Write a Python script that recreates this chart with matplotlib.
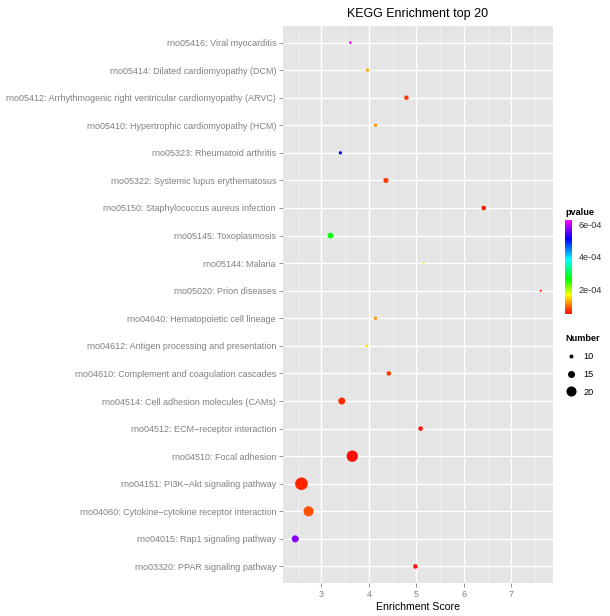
import matplotlib
matplotlib.use("Agg")
import matplotlib.pyplot as plt
import numpy as np
from matplotlib.colors import LinearSegmentedColormap, Normalize
from matplotlib.lines import Line2D
from matplotlib.ticker import MultipleLocator

plt.rcParams['font.family'] = ['Liberation Sans', 'DejaVu Sans']

# ---- data (top row first) ----
pathways = [
    "rno05416: Viral myocarditis",
    "rno05414: Dilated cardiomyopathy (DCM)",
    "rno05412: Arrhythmogenic right ventricular cardiomyopathy (ARVC)",
    "rno05410: Hypertrophic cardiomyopathy (HCM)",
    "rno05323: Rheumatoid arthritis",
    "rno05322: Systemic lupus erythematosus",
    "rno05150: Staphylococcus aureus infection",
    "rno05145: Toxoplasmosis",
    "rno05144: Malaria",
    "rno05020: Prion diseases",
    "rno04640: Hematopoietic cell lineage",
    "rno04612: Antigen processing and presentation",
    "rno04610: Complement and coagulation cascades",
    "rno04514: Cell adhesion molecules (CAMs)",
    "rno04512: ECM\u2212receptor interaction",
    "rno04510: Focal adhesion",
    "rno04151: PI3K\u2212Akt signaling pathway",
    "rno04060: Cytokine\u2212cytokine receptor interaction",
    "rno04015: Rap1 signaling pathway",
    "rno03320: PPAR signaling pathway",
]
enrichment = [3.61, 3.97, 4.79, 4.14, 3.40, 4.36, 6.42, 3.19, 5.15, 7.62,
              4.14, 3.96, 4.42, 3.43, 5.09, 3.65, 2.58, 2.73, 2.45, 4.98]
pvalue = [6.25e-4, 1.25e-4, 0.75e-4, 1.15e-4, 5.1e-4, 0.70e-4, 0.50e-4, 2.6e-4, 1.6e-4, 0.50e-4,
          1.15e-4, 1.55e-4, 0.70e-4, 0.65e-4, 0.50e-4, 0.47e-4, 0.60e-4, 0.85e-4, 5.7e-4, 0.47e-4]
number = [8, 9, 11, 9, 9, 12, 11, 13, 7, 7,
          9, 8, 11, 15, 11, 22, 24, 20, 15, 11]
size_breaks = [10, 15, 20]
p_ticks = [2e-4, 4e-4, 6e-4]
p_tick_labels = ["2e-04", "4e-04", "6e-04"]

title = "KEGG Enrichment top 20"
xlabel = "Enrichment Score"

# ---- styling helpers ----
W, H = 610, 616
DPI = 100

def size_pts2(n):
    d_px = np.maximum(0.62 * np.asarray(n, dtype=float) - 2.3, 1.5)
    return (d_px * 72 / DPI) ** 2

cmap = LinearSegmentedColormap.from_list("rb", [
    (0.00, "#FF1000"), (0.05, "#FF4000"), (0.10, "#FF8000"),
    (0.20, "#FFFF00"), (0.37, "#00FF00"), (0.58, "#00FFFF"),
    (0.80, "#0000FF"), (0.90, "#8000FF"), (1.00, "#FF00FF")])
norm = Normalize(vmin=min(pvalue), vmax=max(pvalue))

fig = plt.figure(figsize=(W / DPI, H / DPI), dpi=DPI)
ax = fig.add_axes([283 / W, 1 - 583 / H, 270 / W, 557 / H])
ax.set_facecolor("#E5E5E5")
for s in ax.spines.values():
    s.set_visible(False)

n = len(pathways)
ypos = np.arange(n)[::-1]
sc = ax.scatter(enrichment, ypos, s=size_pts2(number), c=pvalue, cmap=cmap, norm=norm,
                edgecolors="none", zorder=3)

xmin, xmax = min(enrichment), max(enrichment)
pad = 0.05 * (xmax - xmin)
ax.set_xlim(xmin - pad, xmax + pad)
ax.set_ylim(-0.6, n - 1 + 0.6)
ax.xaxis.set_major_locator(MultipleLocator(1))
ax.xaxis.set_minor_locator(MultipleLocator(0.5))
ax.set_yticks(ypos)
ax.set_yticklabels(pathways)
ax.grid(which="major", color="white", linewidth=1.0, zorder=0)
ax.grid(which="minor", axis="x", color="#F2F2F2", linewidth=0.5, zorder=0)
ax.set_axisbelow(True)
ax.tick_params(axis="both", which="major", colors="#7F7F7F", labelcolor="#808080",
               length=3, width=0.6, labelsize=6.5, pad=2)
ax.tick_params(axis="both", which="minor", length=0)
ax.set_xlabel(xlabel, fontsize=7.6, color="black", labelpad=2)

fig.text(418 / W, 1 - 14 / H, title, ha="center", va="center", fontsize=9)

# colorbar
cax = fig.add_axes([565 / W, 1 - 314 / H, 7 / W, 94 / H])
cb = fig.colorbar(sc, cax=cax, ticks=p_ticks)
cb.ax.set_yticklabels(p_tick_labels)
cb.outline.set_visible(False)
cb.ax.tick_params(length=2, width=0.5, color="white", labelsize=6.6, labelcolor="#333333", pad=3)
cax.text(0, 1.03, "pvalue", transform=cax.transAxes, fontsize=6.6, fontweight="bold",
         ha="left", va="bottom")

# size legend
handles = [Line2D([], [], marker="o", linestyle="none", color="black",
                  markeredgewidth=0, markersize=np.sqrt(size_pts2([b])[0])) for b in size_breaks]
leg = fig.legend(handles, [str(b) for b in size_breaks], title="Number",
                 loc="upper left", bbox_to_anchor=(559 / W, 1 - 328 / H), frameon=False,
                 fontsize=6.6, title_fontsize=6.6, labelspacing=0.95, handletextpad=0.8,
                 handlelength=1.2, alignment="left", borderpad=0.2)
leg.get_title().set_fontweight("bold")

fig.savefig("out.png", dpi=DPI)
